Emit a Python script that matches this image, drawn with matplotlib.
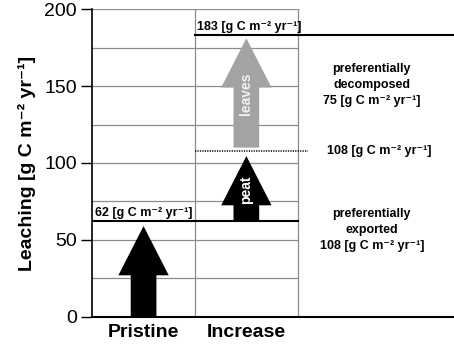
import matplotlib
matplotlib.use("Agg")
import matplotlib.pyplot as plt

plt.rcParams['font.family'] = ['Liberation Sans', 'DejaVu Sans']

# data
categories = ["Pristine", "Increase"]
pristine_level = 62
peat_level = 108
total_level = 183
decomposed = 75
exported = 108
unit = " [g C m\u207b\u00b2 yr\u207b\u00b9]"

yticks = [0, 50, 100, 150, 200]
grid_y = [25, 50, 75, 100, 125, 150, 175, 200]

fig = plt.figure(figsize=(4.54, 3.49), dpi=100)
ax = fig.add_axes([0.203, 0.092, 0.797, 0.882])
ax.set_xlim(0, 3.52)
ax.set_ylim(0, 200)

# grid box (only over the two categories)
grid_col = "#8c8c8c"
for gy in grid_y:
    ax.plot([0, len(categories)], [gy, gy], color=grid_col, lw=0.9, zorder=1)
for gx in range(1, len(categories) + 1):
    ax.plot([gx, gx], [0, 200], color=grid_col, lw=0.9, zorder=1)

# level lines
ax.plot([0, 2], [pristine_level, pristine_level], color="black", lw=1.5, zorder=3)
ax.plot([1, 3.52], [total_level, total_level], color="black", lw=1.5, zorder=3)
ax.plot([1, 2.1], [peat_level, peat_level], color="black", lw=1.1, ls=(0, (0.8, 0.8)), zorder=3)

# arrows
def up_arrow(x, y0, y1, color):
    ax.arrow(x, y0, 0, y1 - y0, width=0.25, head_width=0.49, head_length=32,
             length_includes_head=True, color=color, ec="none", zorder=4)

up_arrow(0.5, 0, pristine_level - 3, "black")
up_arrow(1.5, pristine_level, peat_level - 3.5, "black")
up_arrow(1.5, peat_level + 2, total_level - 2, "#a3a3a3")

ax.text(1.5, 82.5, "peat", rotation=90, color="white", fontsize=10, fontweight="bold",
        ha="center", va="center", zorder=5)
ax.text(1.5, 145, "leaves", rotation=90, color="#f2f2f2", fontsize=10, fontweight="bold",
        ha="center", va="center", zorder=5)

# value labels
lab = dict(fontsize=9, fontweight="bold", zorder=5)
ax.text(0.03, pristine_level + 1.5, f"{pristine_level}{unit}", ha="left", va="bottom", **lab)
ax.text(1.02, total_level + 1.5, f"{total_level}{unit}", ha="left", va="bottom", **lab)
ax.text(2.79, peat_level, f"{peat_level}{unit}", ha="center", va="center", **lab)
ax.text(2.72, 150.5, f"preferentially\ndecomposed\n{decomposed}{unit}",
        ha="center", va="center", linespacing=1.45, **lab)
ax.text(2.72, 56.5, f"preferentially\nexported\n{exported}{unit}",
        ha="center", va="center", linespacing=1.45, **lab)

# axes styling
for s in ["top", "right"]:
    ax.spines[s].set_visible(False)
ax.spines["left"].set_linewidth(1.2)
ax.spines["bottom"].set_linewidth(1.5)
ax.set_yticks(yticks)
ax.tick_params(axis="y", labelsize=14, length=8, width=1, direction="out", pad=3)
ax.set_xticks([i + 0.5 for i in range(len(categories))])
ax.set_xticklabels(categories, fontsize=14, fontweight="bold")
ax.tick_params(axis="x", length=0, pad=5)
ax.set_ylabel("Leaching [g C m\u207b\u00b2 yr\u207b\u00b9]", fontsize=14, fontweight="bold", labelpad=6)

fig.savefig("out.png", dpi=100)
